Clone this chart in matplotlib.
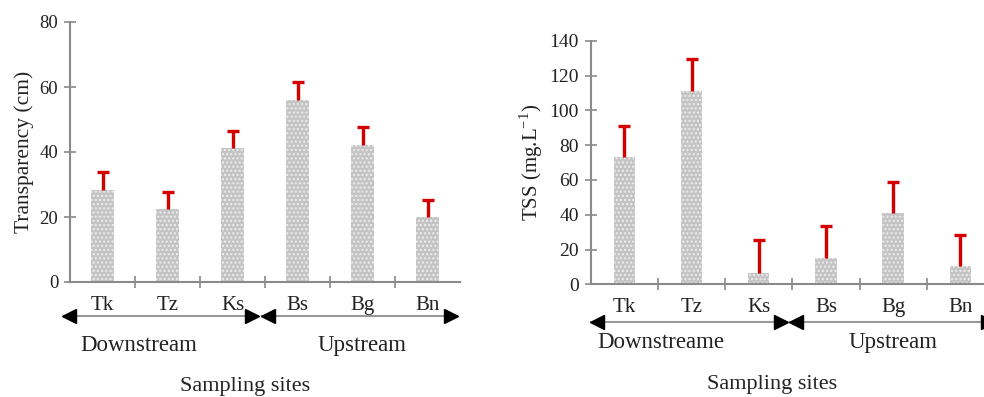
import matplotlib
matplotlib.use("Agg")
import matplotlib.pyplot as plt
from matplotlib.transforms import blended_transform_factory

plt.rcParams['font.family'] = ['Liberation Serif', 'DejaVu Serif']
plt.rcParams['mathtext.fontset'] = 'custom'
plt.rcParams['mathtext.rm'] = 'Liberation Serif'
plt.rcParams['hatch.linewidth'] = 1.0

sites = ['Tk', 'Tz', 'Ks', 'Bs', 'Bg', 'Bn']
transparency = [28.3, 22.5, 41.2, 56.0, 42.2, 20.0]
transparency_err = [5.5, 5.3, 5.3, 5.5, 5.5, 5.2]
tss = [73.4, 111.3, 6.7, 15.3, 40.8, 10.5]
tss_err = [17.6, 18.0, 18.8, 18.4, 17.8, 17.8]

text_col = '#222222'
axis_col = '#8a8a8a'
bar_col = '#c4c4c4'
err_col = '#d40000'

fig = plt.figure(figsize=(9.84, 3.97), dpi=100)
ax1 = fig.add_axes([70 / 984, 115 / 397, 390 / 984, 260 / 397])
ax2 = fig.add_axes([590.7 / 984, 112.7 / 397, 403.3 / 984, 243.6 / 397])


def draw(ax, vals, errs, ymax, ystep, bw, region1, arrow_y, lab_y, title_y,
         arrows, ysize):
    x = [i + 0.5 for i in range(len(sites))]
    ax.bar(x, vals, width=bw, color=bar_col, edgecolor='#eeeeee', linewidth=0,
           hatch='....', zorder=2)
    _, caps, _ = ax.errorbar(x, vals, yerr=[[0] * len(errs), errs], fmt='none',
                             ecolor=err_col, elinewidth=2.4, capsize=4,
                             capthick=2.4, zorder=3)
    caps[0].set_visible(False)
    ax.set_xlim(0, 6)
    ax.set_ylim(0, ymax)
    ax.set_yticks(range(0, ymax + 1, ystep))
    ax.set_xticks(x)
    ax.set_xticklabels(sites, fontsize=15, color=text_col)
    ax.set_xticks([1, 2, 3, 4, 5], minor=True)
    ax.tick_params(axis='x', which='major', length=0, pad=10)
    ax.tick_params(axis='x', which='minor', direction='inout', length=9,
                   width=1.2, color=axis_col)
    ax.tick_params(axis='y', direction='inout', length=9, width=1.2,
                   color=axis_col, labelsize=ysize, labelcolor=text_col, pad=4)
    for s in ['top', 'right']:
        ax.spines[s].set_visible(False)
    for s in ['left', 'bottom']:
        ax.spines[s].set_color(axis_col)
        ax.spines[s].set_linewidth(1.5)

    tr = blended_transform_factory(ax.transData, ax.transAxes)
    for (a, b) in arrows:
        ax.plot([a, b], [arrow_y, arrow_y], color='#999999', lw=1.5,
                transform=tr, clip_on=False)
        ax.plot([a + 0.09], [arrow_y], marker='<', ms=10, color='black',
                transform=tr, clip_on=False)
        ax.plot([b - 0.09], [arrow_y], marker='>', ms=10, color='black',
                transform=tr, clip_on=False)
    ax.text(1.05, lab_y, region1, transform=tr, ha='center', va='center',
            fontsize=16.5, color=text_col)
    ax.text(4.5, lab_y, 'Upstream', transform=tr, ha='center', va='center',
            fontsize=16.5, color=text_col)
    ax.text(2.7, title_y, 'Sampling sites', transform=tr, ha='center',
            va='center', fontsize=16, color=text_col)


draw(ax1, transparency, transparency_err, 80, 20, 0.35,
     'Downstream', -0.131, -0.245, -0.4,
     [(-0.1, 2.89), (2.95, 5.95)], 13.5)
draw(ax2, tss, tss_err, 140, 20, 0.32,
     'Downstreame', -0.155, -0.24, -0.41,
     [(0.0, 2.92), (2.96, 6.0)], 14)

ax1.set_ylabel('Transparency (cm)', fontsize=15.5, color=text_col)
ax2.set_ylabel(r'TSS (mg.L$^{\mathregular{-1}}$)', fontsize=15, color=text_col)
ax1.yaxis.set_label_coords(-0.093, 0.5)
ax2.yaxis.set_label_coords(-0.113, 0.5)

fig.savefig('out.png', dpi=100)
